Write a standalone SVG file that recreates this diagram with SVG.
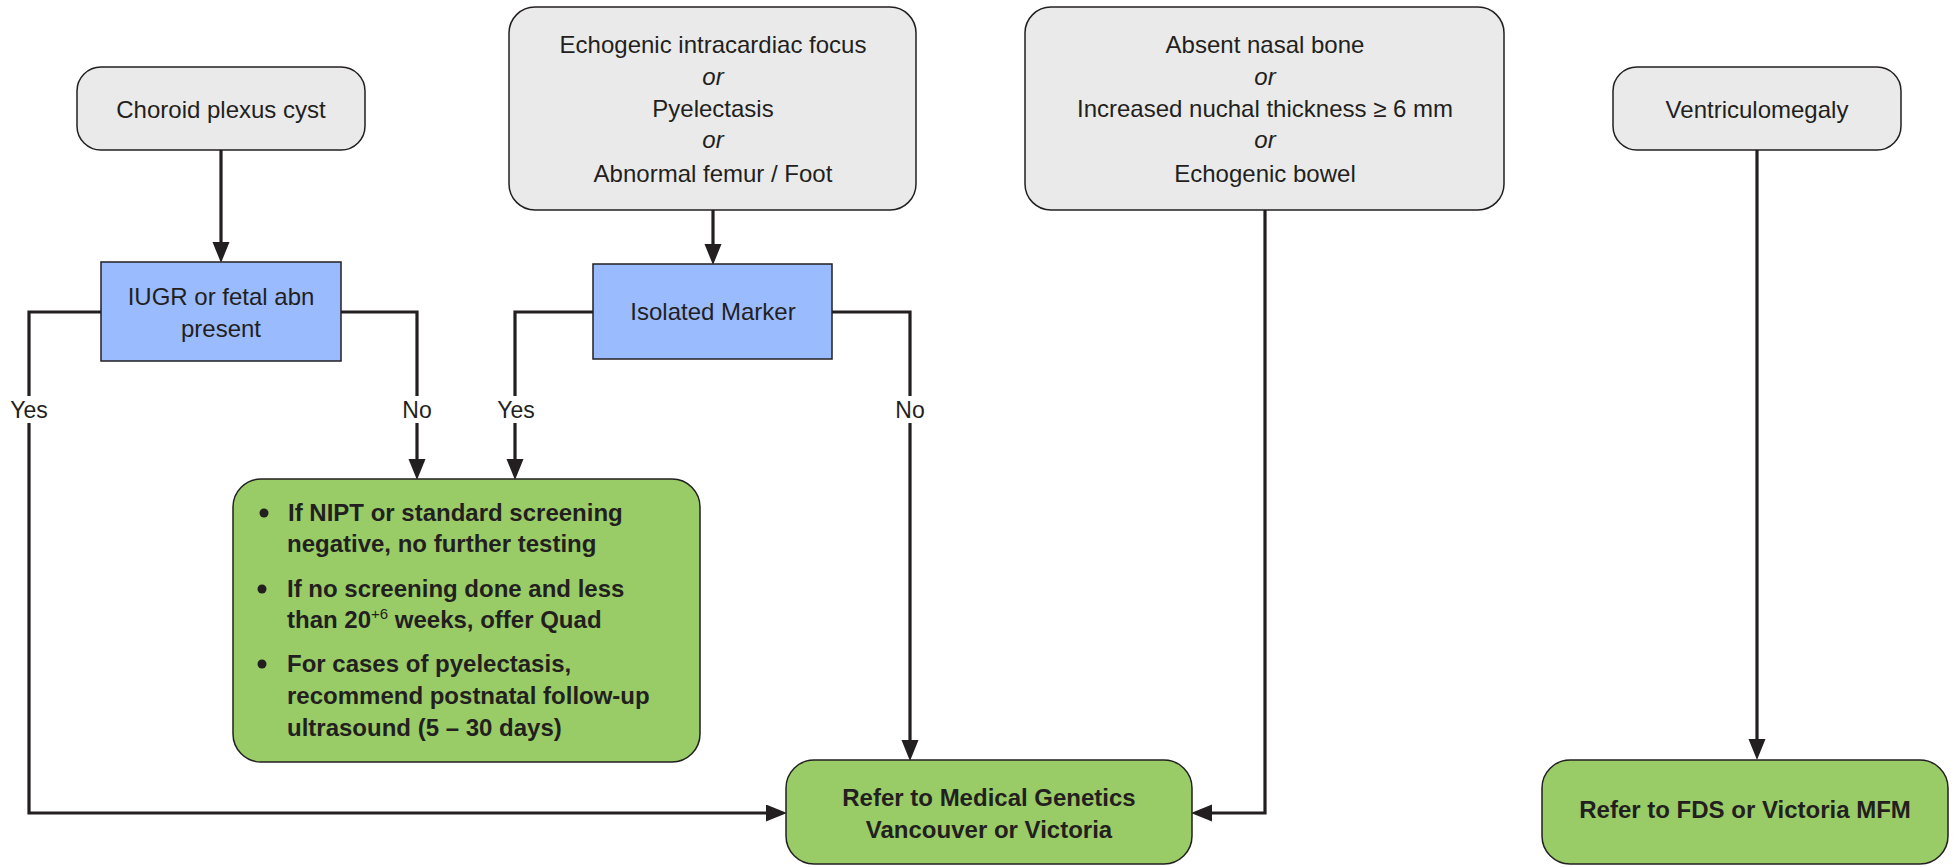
<svg xmlns="http://www.w3.org/2000/svg" width="1958" height="867" viewBox="0 0 1958 867">
<style>
.t{font-family:"Liberation Sans",Arial,sans-serif;font-size:24px;fill:#231f20;text-anchor:middle}
.i{font-style:italic}
.b{font-family:"Liberation Sans",Arial,sans-serif;font-size:24px;font-weight:bold;fill:#231f20}
.bc{text-anchor:middle}
.lbl{font-family:"Liberation Sans",Arial,sans-serif;font-size:23px;fill:#231f20;text-anchor:middle}
.gray{fill:#eaeaea;stroke:#231f20;stroke-width:1.5}
.blue{fill:#9bbbff;stroke:#231f20;stroke-width:1.5}
.green{fill:#99cc66;stroke:#231f20;stroke-width:1.5}
.c{fill:none;stroke:#231f20;stroke-width:3.2}
</style>
<defs>
<marker id="ah" markerUnits="userSpaceOnUse" markerWidth="22" markerHeight="18" refX="10" refY="8.5" orient="auto">
<path d="M0,0 L21,8.5 L0,17 z" fill="#231f20"/>
</marker>
</defs>
<rect width="1958" height="867" fill="#fff"/>

<g id="connectors">
<path class="c" d="M221,150 V252" marker-end="url(#ah)"/>
<path class="c" d="M713,210 V254" marker-end="url(#ah)"/>
<path class="c" d="M101,312 H29 V813 H776" marker-end="url(#ah)"/>
<path class="c" d="M341,312 H417 V469" marker-end="url(#ah)"/>
<path class="c" d="M593,312 H515 V469" marker-end="url(#ah)"/>
<path class="c" d="M832,312 H910 V750" marker-end="url(#ah)"/>
<path class="c" d="M1265,210 V813 H1202" marker-end="url(#ah)"/>
<path class="c" d="M1757,150 V749" marker-end="url(#ah)"/>
<g id="labels">
<rect x="9" y="396" width="40" height="27" fill="#fff"/>
<text class="lbl" x="29" y="418">Yes</text>
<rect x="401" y="396" width="32" height="27" fill="#fff"/>
<text class="lbl" x="417" y="418">No</text>
<rect x="495" y="396" width="40" height="27" fill="#fff"/>
<text class="lbl" x="516" y="418">Yes</text>
<rect x="894" y="396" width="32" height="27" fill="#fff"/>
<text class="lbl" x="910" y="418">No</text>
</g>
</g>

<g id="choroid">
<rect class="gray" x="77" y="67" width="288" height="83" rx="24"/>
<text class="t" x="221" y="118">Choroid plexus cyst</text>
</g>

<g id="echogenic">
<rect class="gray" x="509" y="7" width="407" height="203" rx="26"/>
<text class="t" x="713" y="53">Echogenic intracardiac focus</text>
<text class="t i" x="713" y="85">or</text>
<text class="t" x="713" y="117">Pyelectasis</text>
<text class="t i" x="713" y="148">or</text>
<text class="t" x="713" y="182">Abnormal femur / Foot</text>
</g>

<g id="absent">
<rect class="gray" x="1025" y="7" width="479" height="203" rx="26"/>
<text class="t" x="1265" y="53">Absent nasal bone</text>
<text class="t i" x="1265" y="85">or</text>
<text class="t" x="1265" y="117">Increased nuchal thickness ≥ 6 mm</text>
<text class="t i" x="1265" y="148">or</text>
<text class="t" x="1265" y="182">Echogenic bowel</text>
</g>

<g id="ventriculomegaly">
<rect class="gray" x="1613" y="67" width="288" height="83" rx="24"/>
<text class="t" x="1757" y="118">Ventriculomegaly</text>
</g>

<g id="iugr">
<rect class="blue" x="101" y="262" width="240" height="99"/>
<text class="t" x="221" y="305">IUGR or fetal abn</text>
<text class="t" x="221" y="337">present</text>
</g>

<g id="isolated">
<rect class="blue" x="593" y="264" width="239" height="95"/>
<text class="t" x="713" y="320">Isolated Marker</text>
</g>

<g id="screening">
<rect class="green" x="233" y="479" width="467" height="283" rx="28"/>
<circle cx="264" cy="513" r="4.5" fill="#231f20"/>
<circle cx="262" cy="589" r="4.5" fill="#231f20"/>
<circle cx="262" cy="664" r="4.5" fill="#231f20"/>
<text class="b" x="288" y="521">If NIPT or standard screening</text>
<text class="b" x="287" y="552">negative, no further testing</text>
<text class="b" x="287" y="597">If no screening done and less</text>
<text class="b" x="287" y="628">than 20<tspan font-size="15" font-weight="normal" dy="-9">+6</tspan><tspan dy="9"> weeks, offer Quad</tspan></text>
<text class="b" x="287" y="672">For cases of pyelectasis,</text>
<text class="b" x="287" y="704">recommend postnatal follow-up</text>
<text class="b" x="287" y="736">ultrasound (5 – 30 days)</text>
</g>

<g id="refer-genetics">
<rect class="green" x="786" y="760" width="406" height="104" rx="28"/>
<text class="b bc" x="989" y="806">Refer to Medical Genetics</text>
<text class="b bc" x="989" y="838">Vancouver or Victoria</text>
</g>

<g id="refer-fds">
<rect class="green" x="1542" y="760" width="406" height="104" rx="28"/>
<text class="b bc" x="1745" y="818">Refer to FDS or Victoria MFM</text>
</g>
</svg>
